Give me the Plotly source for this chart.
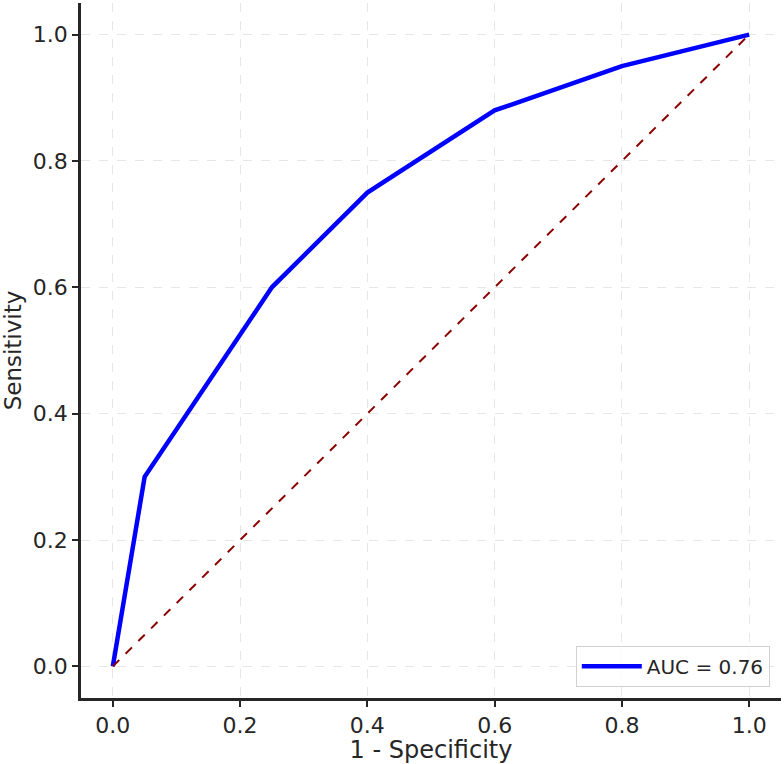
import plotly.graph_objects as go

fpr = [0.0, 0.05, 0.25, 0.4, 0.6, 0.8, 1.0]
tpr = [0.0, 0.30, 0.60, 0.75, 0.88, 0.95, 1.0]
diag_x = [0.0, 1.0]
diag_y = [0.0, 1.0]
tick_vals = [0.0, 0.2, 0.4, 0.6, 0.8, 1.0]
tick_text = ["0.0", "0.2", "0.4", "0.6", "0.8", "1.0"]
x_title = "1 - Specificity"
y_title = "Sensitivity"

fig = go.Figure()
fig.add_trace(go.Scatter(x=fpr, y=tpr, mode="lines", name="AUC = 0.76",
                         line=dict(color="#0000ff", width=4.5)))
fig.add_trace(go.Scatter(x=diag_x, y=diag_y, mode="lines", showlegend=False,
                         line=dict(color="#8b0000", width=2, dash="dash")))

axis_common = dict(
    range=[-0.05, 1.05], tickvals=tick_vals, ticktext=tick_text,
    showgrid=True, gridcolor="#e6e6e6", griddash="dash", gridwidth=1,
    zeroline=False, showline=True, linecolor="#262626", linewidth=2.5,
    ticks="outside", ticklen=6, tickwidth=1.5, tickcolor="#262626",
    tickfont=dict(size=22, color="#262626", family="DejaVu Sans"),
)
fig.update_xaxes(**axis_common, automargin=True,
                 title=dict(text=x_title, font=dict(size=24, color="#262626", family="DejaVu Sans"), standoff=3))
fig.update_yaxes(**axis_common, automargin=False, domain=[0.0746, 1],
                 title=dict(text=y_title, font=dict(size=23, color="#262626", family="DejaVu Sans"), standoff=8))

fig.update_layout(
    width=784, height=764,
    margin=dict(l=81, r=3, t=3, b=10),
    plot_bgcolor="white", paper_bgcolor="white",
    font=dict(family="DejaVu Sans", color="#262626"),
    legend=dict(x=0.984, y=0.0746 + 0.016 * 0.925, xanchor="right", yanchor="bottom",
                itemwidth=60,
                bgcolor="rgba(255,255,255,0.8)", bordercolor="#d0d0d0", borderwidth=1,
                font=dict(size=20, color="#262626")),
)
fig.write_html("out.html")
